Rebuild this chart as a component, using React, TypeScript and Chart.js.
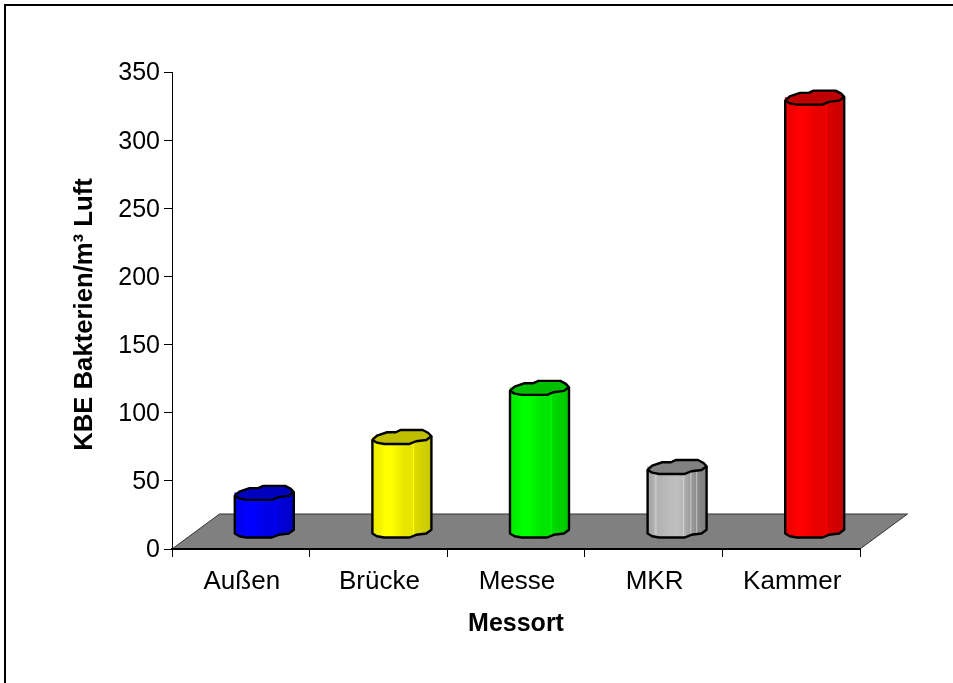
import React, { useEffect, useRef } from "react";
import { Chart, registerables } from "chart.js";

Chart.register(...registerables);

const categories = ["Außen", "Brücke", "Messe", "MKR", "Kammer"];
const bakterien = [28, 69, 105, 47, 318];
const barColors = [
  [0, 0, 255],
  [255, 255, 0],
  [0, 255, 0],
  [192, 192, 192],
  [255, 0, 0],
];
const yTitle = "KBE Bakterien/m³ Luft";
const xTitle = "Messort";
const yMax = 350;
const yStep = 50;

const FONT = '"Liberation Sans", Arial, sans-serif';
const W = 953;
const H = 683;
const DX = 47.5; // floor depth
const DY = 35;
const BAR_DX = 23.5;
const BAR_DY = -18;
const BAR_W = 59;
const SX = BAR_W / 58;

// irregular outline of the 3D column section, relative to its centre
const capBack: [number, number][] = [
  [-29, 3], [-24.5, -1.3], [-14.5, -4.7], [-6, -4.7], [-1, -7], [20.5, -7], [26, -4], [29, -0.7],
];
const capFront: [number, number][] = [
  [29, -0.7], [24, 3], [14, 4.3], [7.5, 7], [-17.5, 7], [-24.5, 5.7], [-29, 3],
];

function shade(c: number[], f: number) {
  return `rgb(${c.map((v) => Math.round(v * f)).join(",")})`;
}

// vertical facets of the column: [position across the width, brightness]
const facets: [number, number][] = [
  [0, 0.92], [0.15, 0.96], [0.2, 1], [0.32, 1], [0.4, 0.96], [0.55, 0.9], [0.685, 0.9],
  [0.7, 1], [0.715, 0.86], [0.85, 0.82], [1, 0.78],
];
const greyFacets: [number, number][] = [
  [0, 0.85], [0.1, 0.9], [0.14, 1.05], [0.17, 0.92], [0.3, 0.96], [0.5, 1], [0.58, 0.96], [0.6, 0.96],
  [0.61, 1.1], [0.63, 0.9], [0.72, 0.82], [0.73, 1.05], [0.75, 0.8], [0.82, 0.74], [0.83, 1], [0.85, 0.72], [1, 0.65],
];

function columnFill(ctx: CanvasRenderingContext2D, cx: number, color: number[]) {
  const g = ctx.createLinearGradient(cx - BAR_W / 2, 0, cx + BAR_W / 2, 0);
  const list = color[0] === color[2] && color[0] === 192 ? greyFacets : facets;
  for (const [p, f] of list) {
    g.addColorStop(p, `rgb(${color.map((v) => Math.min(255, Math.round(v * f))).join(",")})`);
  }
  return g;
}

function trace(ctx: CanvasRenderingContext2D, pts: [number, number][], cx: number, cy: number, first: boolean) {
  pts.forEach(([x, y], i) => {
    if (i === 0 && first) ctx.moveTo(cx + x * SX, cy + y);
    else ctx.lineTo(cx + x * SX, cy + y);
  });
}

const scenePlugin = {
  id: "scene",
  beforeDraw(chart: any) {
    const { ctx, chartArea: a } = chart;
    ctx.save();
    ctx.fillStyle = "#fff";
    ctx.fillRect(0, 0, W, H);
    // outer frame (only top and left fall inside the picture)
    ctx.strokeStyle = "#000";
    ctx.lineWidth = 2;
    ctx.beginPath();
    ctx.moveTo(5, H);
    ctx.lineTo(5, 5);
    ctx.lineTo(W, 5);
    ctx.stroke();
    // floor
    ctx.beginPath();
    ctx.moveTo(a.left, a.bottom);
    ctx.lineTo(a.left + DX, a.bottom - DY);
    ctx.lineTo(a.right + DX, a.bottom - DY);
    ctx.lineTo(a.right, a.bottom);
    ctx.closePath();
    ctx.fillStyle = "#808080";
    ctx.fill();
    ctx.strokeStyle = "#333";
    ctx.lineWidth = 1;
    ctx.stroke();
    ctx.restore();
  },
  beforeDatasetsDraw(chart: any) {
    const { ctx } = chart;
    // columns stand on the floor: everything is drawn shifted in depth
    ctx.save();
    ctx.translate(BAR_DX, BAR_DY);
  },
  afterDatasetsDraw(chart: any) {
    const { ctx } = chart;
    const meta = chart.getDatasetMeta(0);
    meta.data.forEach((bar: any, i: number) => {
      const color = barColors[i];
      const cx = bar.x;
      const top = bar.y;
      const base = bar.base;
      const hw = 29 * SX;
      // lower rim of the column
      ctx.beginPath();
      trace(ctx, capFront, cx, base, true);
      ctx.lineTo(cx - hw, base - 2);
      ctx.lineTo(cx + hw, base - 2);
      ctx.closePath();
      ctx.fillStyle = columnFill(ctx, cx, color);
      ctx.fill();
      // outline of body
      ctx.beginPath();
      ctx.moveTo(cx - hw, top + 3);
      ctx.lineTo(cx - hw, base + 3);
      trace(ctx, [...capFront].reverse(), cx, base, false);
      ctx.lineTo(cx + hw, top - 0.7);
      ctx.strokeStyle = "#000";
      ctx.lineWidth = 2.4;
      ctx.lineJoin = "round";
      ctx.stroke();
      // top cap
      ctx.beginPath();
      trace(ctx, capBack, cx, top, true);
      trace(ctx, capFront, cx, top, false);
      ctx.closePath();
      ctx.fillStyle = shade(color, color[0] === 192 && color[2] === 192 ? 0.67 : 0.75);
      ctx.fill();
      ctx.stroke();
    });
    ctx.restore();
  },
  afterDraw(chart: any) {
    const { ctx, chartArea: a } = chart;
    ctx.save();
    ctx.fillStyle = "#000";
    ctx.textAlign = "center";
    ctx.textBaseline = "middle";
    ctx.font = `bold 25px ${FONT}`;
    ctx.fillText(xTitle, (a.left + a.right) / 2, 624.5);
    ctx.font = `bold 25.7px ${FONT}`;
    ctx.translate(85, 314.5);
    ctx.rotate(-Math.PI / 2);
    ctx.fillText(yTitle, 0, 0);
    ctx.restore();
  },
};

export default function App() {
  const ref = useRef<HTMLCanvasElement>(null);
  useEffect(() => {
    const canvas = ref.current!;
    const chart = new Chart(canvas, {
      type: "bar",
      data: {
        labels: categories,
        datasets: [
          {
            label: yTitle,
            data: bakterien,
            barThickness: BAR_W,
            borderWidth: 0,
            backgroundColor: (c: any) => {
              if (c.type !== "data" || !c.chart.chartArea) return "#888";
              const x = c.chart.scales.x.getPixelForValue(c.dataIndex);
              return Number.isFinite(x) ? columnFill(c.chart.ctx, x, barColors[c.dataIndex]) : "#888";
            },
          },
        ],
      },
      options: {
        responsive: false,
        animation: false,
        devicePixelRatio: 1,
        layout: { padding: { top: 72, right: W - 860, left: 0, bottom: 0 } },
        plugins: { legend: { display: false }, tooltip: { enabled: false } },
        scales: {
          x: {
            offset: true,
            afterFit: (s: any) => {
              s.height = H - 549;
              s.paddingLeft = 0;
              s.paddingRight = 0;
            },
            grid: { display: true, offset: true, drawOnChartArea: false, tickLength: 8, color: "#000", lineWidth: 1 },
            border: { display: true, color: "#000", width: 2 },
            ticks: { color: "#000", font: { family: FONT, size: 26 }, padding: 9, maxRotation: 0, autoSkip: false, labelOffset: 1 },
          },
          y: {
            min: 0,
            max: yMax,
            afterFit: (s: any) => {
              s.width = 172;
              s.paddingTop = 0;
              s.paddingBottom = 0;
            },
            ticks: { stepSize: yStep, color: "#000", font: { family: FONT, size: 25 }, padding: 4, labelOffset: 1.5 },
            grid: { display: true, drawOnChartArea: false, tickLength: 8, color: "#000", lineWidth: 1 },
            border: { display: true, color: "#000", width: 1 },
          },
        },
      },
      plugins: [scenePlugin],
    } as any);
    return () => chart.destroy();
  }, []);
  return (
    <div style={{ position: "fixed", left: 0, top: 0, width: W, height: H, background: "#fff" }}>
      <canvas ref={ref} width={W} height={H} style={{ display: "block", width: W, height: H }} />
    </div>
  );
}
